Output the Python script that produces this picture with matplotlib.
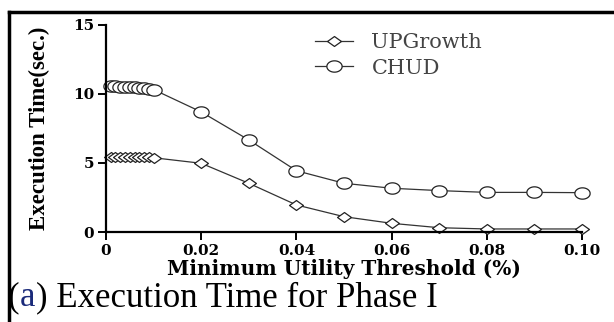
import matplotlib
matplotlib.use("Agg")
from matplotlib import pyplot as plt
from matplotlib.path import Path
from matplotlib.lines import Line2D
import numpy as np

# --- Данные ---
threshold = [0.001, 0.002, 0.003, 0.004, 0.005, 0.006, 0.007, 0.008, 0.009, 0.010,
             0.02, 0.03, 0.04, 0.05, 0.06, 0.07, 0.08, 0.09, 0.10]
upgrowth = [5.47, 5.46, 5.46, 5.45, 5.45, 5.44, 5.43, 5.42, 5.40, 5.38,
            4.98, 3.53, 1.96, 1.11, 0.63, 0.31, 0.22, 0.22, 0.22]
chud = [10.55, 10.55, 10.54, 10.53, 10.52, 10.50, 10.47, 10.43, 10.38, 10.32,
        8.70, 6.67, 4.44, 3.53, 3.17, 3.00, 2.87, 2.87, 2.85]

xticks = [0, 0.02, 0.04, 0.06, 0.08, 0.10]
xticklabels = ['0', '0.02', '0.04', '0.06', '0.08', '0.10']
yticks = [0, 5, 10, 15]

# вытянутые маркеры (ромб и эллипс)
diamond = Path([(-1.4, 0), (0, 1), (1.4, 0), (0, -1), (-1.4, 0)],
               [Path.MOVETO, Path.LINETO, Path.LINETO, Path.LINETO, Path.CLOSEPOLY])
t = np.linspace(0, 2 * np.pi, 60)
ellipse = Path(np.column_stack([1.35 * np.cos(t), np.sin(t)]))

plt.rcParams['font.family'] = ['Liberation Serif', 'DejaVu Serif']
wide = ['DejaVu Serif']  # растянутый по ширине шрифт как в оригинале

fig = plt.figure(figsize=(6.14, 3.22), dpi=100)
ax = fig.add_axes([0.1726, 0.2795, 0.948 - 0.1726, 0.9224 - 0.2795])

ax.plot(threshold, upgrowth, color='#333333', lw=0.9, marker=diamond, ms=10,
        mfc='white', mec='#222222', mew=0.9, clip_on=False, label='UPGrowth')
ax.plot(threshold, chud, color='#333333', lw=0.9, marker=ellipse, ms=11,
        mfc='white', mec='#222222', mew=0.9, clip_on=False, label='CHUD')

ax.set_xlim(0, 0.10)
ax.set_ylim(0, 15)
ax.set_xticks(xticks)
ax.set_xticklabels(xticklabels)
ax.set_yticks(yticks)
for s in ['top', 'right']:
    ax.spines[s].set_visible(False)
for s in ['left', 'bottom']:
    ax.spines[s].set_linewidth(1.6)
ax.tick_params(direction='out', length=6, width=1.4, labelsize=11, pad=2.5)
for lab in ax.get_xticklabels() + ax.get_yticklabels():
    lab.set_fontweight('bold')
    lab.set_family(wide)

ax.set_xlabel('Minimum Utility Threshold (%)', fontsize=14.5, fontweight='bold',
              family=wide, labelpad=1)
ax.set_ylabel('Execution Time(sec.)', fontsize=16.5, fontweight='bold')
ax.yaxis.set_label_coords(-0.118, 0.5)

leg = ax.legend(loc='upper left', bbox_to_anchor=(0.40, 1.05), frameon=False,
                prop={'family': wide, 'size': 15},
                handlelength=1.8, handletextpad=0.9, labelspacing=0.3)
for txt in leg.get_texts():
    txt.set_color('#444444')

# подпись снизу
t1 = fig.text(0.013, 0.05, '(', fontsize=25, ha='left', va='baseline')
t2 = ax.annotate('a', xy=(1, 0), xycoords=t1, xytext=(0.5, 0), textcoords='offset points',
                 fontsize=25, color='#1a2a7a', ha='left', va='bottom')
ax.annotate(') Execution Time for Phase I', xy=(1, 0), xycoords=t2, xytext=(0.5, 0),
            textcoords='offset points', fontsize=25, ha='left', va='bottom')

# рамка (обрезанная)
fig.add_artist(Line2D([0.014, 1.0], [0.963, 0.963], color='black', lw=2.5))
fig.add_artist(Line2D([0.014, 0.014], [0.0, 0.963], color='black', lw=2.5))

fig.savefig('out.png', dpi=100)
